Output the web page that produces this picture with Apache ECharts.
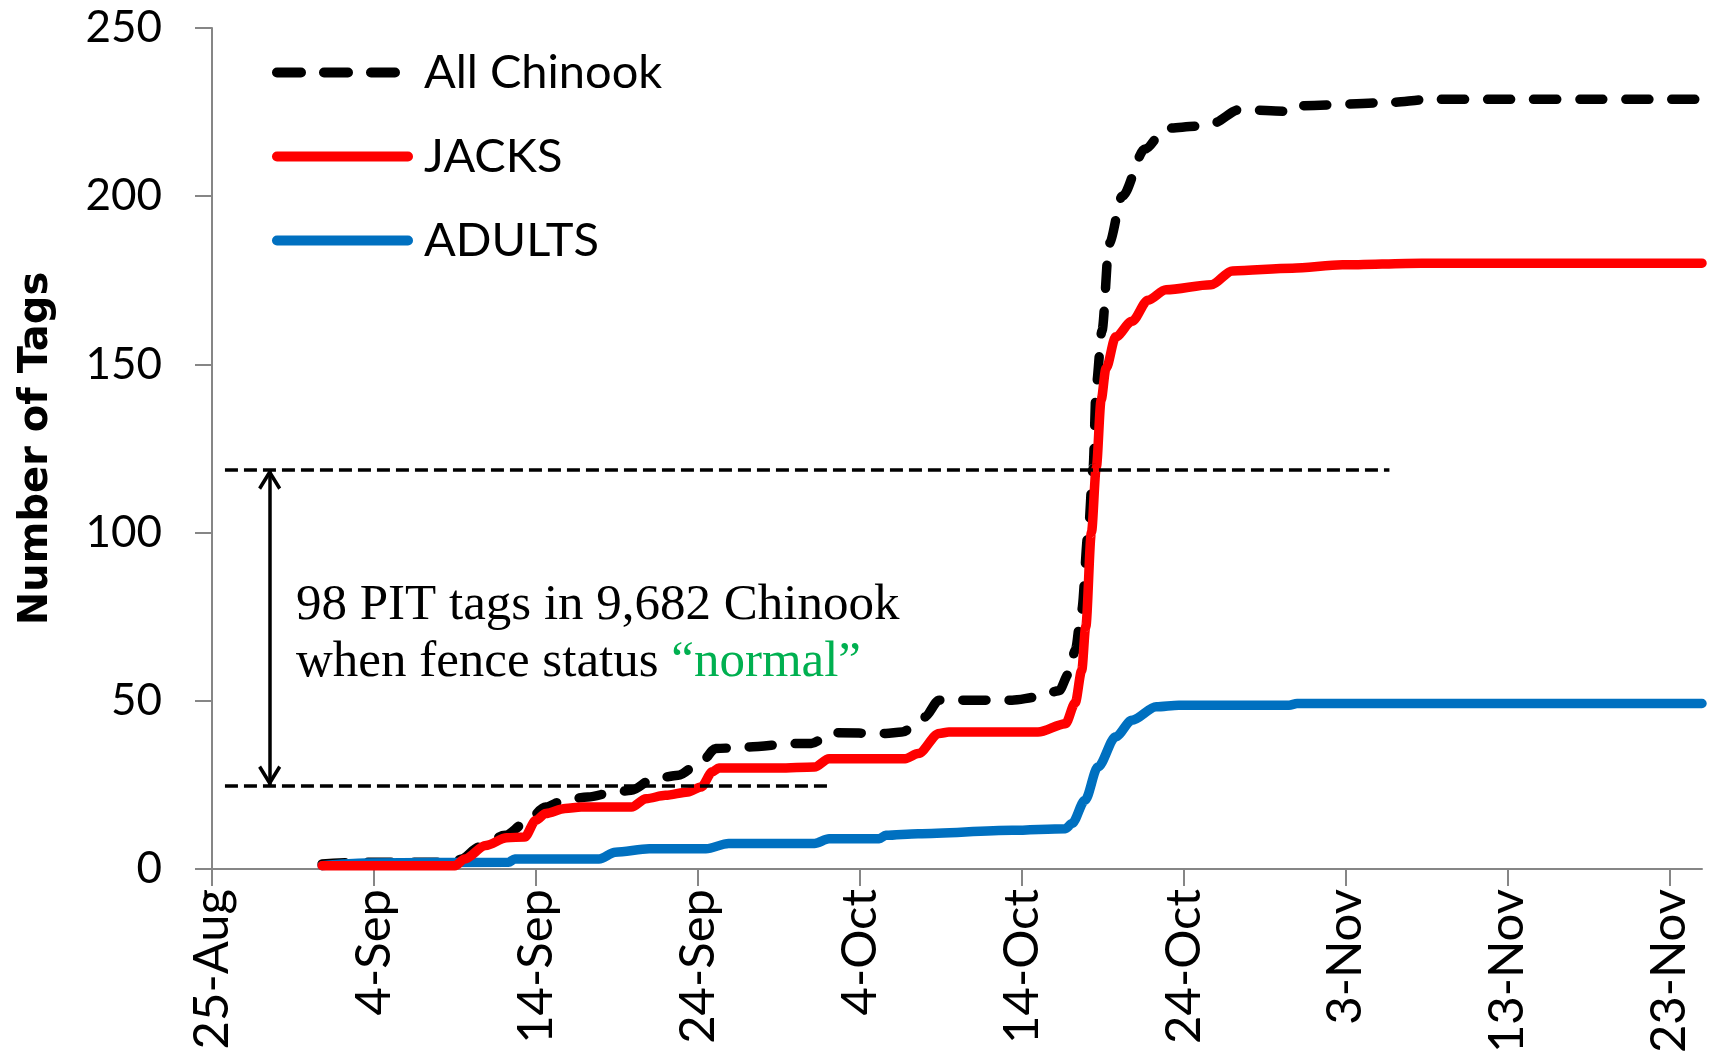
<!DOCTYPE html>
<html>
<head>
<meta charset="utf-8">
<script src="https://cdn.jsdelivr.net/npm/echarts@6/dist/echarts.min.js"></script>
<style>
  html, body { margin: 0; padding: 0; background: #fff; }
  #main { width: 1709px; height: 1061px; }
</style>
</head>
<body>
<div id="main"></div>
<script>
  // x values are days after 25-Aug
  const tickLabels = ['25-Aug', '4-Sep', '14-Sep', '24-Sep', '4-Oct', '14-Oct', '24-Oct', '3-Nov', '13-Nov', '23-Nov']

  const chinookDays = [6.8, 9.5, 15.0, 15.4, 16.5, 18.1, 19.3, 20.6, 21.8, 23.2, 24.9, 25.9, 27.2, 28.8, 30.2, 31.1, 33.1, 36.0, 37.0, 38.3, 41.6, 42.6, 44.0, 44.9, 49.4, 51.0, 52.3, 52.9, 53.3, 53.7, 54.1, 54.4, 54.6, 54.95, 55.4, 56.2, 57.6, 58.9, 60.9, 61.8, 63.4, 66.7, 67.3, 72.5, 75.3, 92]
  const chinookTags = [1.5, 2, 2, 3, 6.5, 10, 13.5, 18.4, 20.6, 21.4, 22.9, 23.4, 26.7, 27.9, 31.8, 35.8, 36.3, 37.3, 37.3, 40.5, 40.3, 40.7, 45.2, 50.2, 50.2, 51.1, 53, 58, 65, 77, 100, 119, 144, 160, 186, 200, 214, 220.2, 220.8, 221.7, 225.7, 225.2, 226.9, 227.8, 228.8, 228.8]

  const jacksDays = [6.8, 15.0, 15.6, 16.9, 18.2, 19.3, 20.0, 20.6, 21.8, 22.8, 25.9, 26.8, 28.0, 29.4, 30.2, 30.9, 31.3, 35.0, 37.2, 38.1, 42.8, 43.6, 44.9, 45.5, 51.0, 52.7, 53.3, 53.7, 53.95, 54.3, 54.6, 54.9, 55.2, 55.8, 56.8, 57.8, 58.9, 61.7, 63.0, 66.7, 69.8, 74.7, 92]
  const jacksTags = [1, 1, 3, 7, 9.3, 9.5, 14.5, 16.5, 18, 18.4, 18.4, 20.9, 21.9, 22.9, 24.4, 28.9, 30, 30, 30.3, 32.8, 32.8, 34.3, 40.3, 40.7, 40.7, 43.2, 49.4, 59, 72, 100, 119.3, 139.5, 148.8, 158.2, 162.8, 169.1, 172.2, 173.7, 177.8, 178.6, 179.6, 180.1, 180.1]

  const adultsDays = [6.8, 9.5, 18.3, 18.7, 23.9, 24.9, 27.0, 30.5, 31.9, 37.2, 38.1, 41.2, 41.6, 43.6, 49.4, 52.7, 53.1, 53.9, 54.7, 55.8, 56.8, 58.3, 59.7, 66.5, 67.0, 92]
  const adultsTags = [1, 1.8, 2, 3, 3, 5, 6, 6, 7.6, 7.6, 9, 9, 10, 10.5, 11.5, 12, 13.5, 20.4, 30.3, 39.3, 44.2, 48.2, 48.7, 48.7, 49.2, 49.2]

  // "normal" fence period bracket
  const bracketTags = [24.7, 118.8]
  const bracketStart = 0.8
  const bracketEnds = [38.2, 72.7]
  const arrowDay = 3.56

  const pairs = (xs, ys) => xs.map((x, i) => [x, ys[i]])
  const chevron = 'path://M0,16 L10,0 L20,16 L17.5,18 L10,6 L2.5,18 Z'
  // legend swatches: a thick rounded bar, and three rounded dashes
  const solidIcon = 'path://M5,0 L136,0 A5,5 0 0 1 136,10 L5,10 A5,5 0 0 1 5,0 Z'
  const dashIcon = 'path://M5,0 L29,0 A5,5 0 0 1 29,10 L5,10 A5,5 0 0 1 5,0 Z' +
    'M52,0 L76,0 A5,5 0 0 1 76,10 L52,10 A5,5 0 0 1 52,0 Z' +
    'M99,0 L123,0 A5,5 0 0 1 123,10 L99,10 A5,5 0 0 1 99,0 Z' +
    'M140.9,5 L141,5 L141,5.01 L140.9,5.01 Z'

  const chart = echarts.init(document.getElementById('main'))
  chart.setOption({
    animation: false,
    grid: { left: 212, right: 7, top: 28, bottom: 192 },
    legend: {
      data: [
        { name: 'All Chinook', icon: dashIcon },
        { name: 'JACKS', icon: solidIcon },
        { name: 'ADULTS', icon: solidIcon }
      ],
      orient: 'vertical',
      left: 267,
      top: 44,
      itemWidth: 141,
      itemHeight: 10,
      itemGap: 37,
      textStyle: { fontFamily: 'Lato', fontSize: 47, lineHeight: 44, color: '#000', padding: [0, 0, 0, 6] }
    },
    xAxis: {
      type: 'value',
      min: 0,
      max: 92,
      interval: 10,
      splitLine: { show: false },
      axisLine: { lineStyle: { color: '#868686', width: 2 } },
      axisTick: { length: 17, lineStyle: { color: '#868686', width: 2 } },
      axisLabel: {
        rotate: 90,
        margin: 20,
        fontFamily: 'Lato',
        fontSize: 49,
        color: '#000',
        showMaxLabel: false,
        formatter: v => (v % 10 === 0 ? tickLabels[v / 10] || '' : '')
      }
    },
    yAxis: {
      type: 'value',
      min: 0,
      max: 250,
      interval: 50,
      name: 'Number of Tags',
      nameLocation: 'middle',
      nameGap: 155,
      nameTextStyle: { fontFamily: 'DejaVu Sans', fontWeight: 'bold', fontSize: 40, color: '#000' },
      splitLine: { show: false },
      axisLine: { show: true, lineStyle: { color: '#868686', width: 2 } },
      axisTick: { show: true, length: 17, lineStyle: { color: '#868686', width: 2 } },
      axisLabel: { margin: 50, fontFamily: 'Lato', fontSize: 44, color: '#000' }
    },
    graphic: [{
      type: 'text',
      left: 296,
      top: 577,
      style: {
        text: '98 PIT tags in 9,682 Chinook\nwhen fence status {g|“normal”}',
        fontFamily: 'Liberation Serif',
        fontSize: 51,
        lineHeight: 57,
        fill: '#000',
        rich: { g: { fontFamily: 'Liberation Serif', fontSize: 51, lineHeight: 57, fill: '#00B050' } }
      }
    }],
    series: [
      {
        name: 'notes',
        type: 'line',
        data: [],
        silent: true,
        markLine: {
          silent: true,
          animation: false,
          label: { show: false },
          data: [
            [
              { coord: [bracketStart, bracketTags[1]], symbol: 'none', lineStyle: { color: '#000', width: 3.5, type: [13, 6] } },
              { coord: [bracketEnds[1], bracketTags[1]], symbol: 'none' }
            ],
            [
              { coord: [bracketStart, bracketTags[0]], symbol: 'none', lineStyle: { color: '#000', width: 3.5, type: [13, 6] } },
              { coord: [bracketEnds[0], bracketTags[0]], symbol: 'none' }
            ],
            [
              { coord: [arrowDay, bracketTags[1]], symbol: chevron, symbolSize: [23, 21], symbolOffset: [0, 10], lineStyle: { color: '#000', width: 3.5, type: 'solid' } },
              { coord: [arrowDay, bracketTags[0]], symbol: chevron, symbolSize: [23, 21], symbolOffset: [0, 10] }
            ]
          ],
          itemStyle: { color: '#000' }
        }
      },
      {
        name: 'ADULTS',
        type: 'line',
        data: pairs(adultsDays, adultsTags),
        symbol: 'none',
        smooth: 0.3,
        smoothMonotone: 'x',
        itemStyle: { color: '#0070C0' },
        lineStyle: { color: '#0070C0', width: 9.5, cap: 'round', join: 'round' }
      },
      {
        name: 'JACKS',
        type: 'line',
        data: pairs(jacksDays, jacksTags),
        symbol: 'none',
        smooth: 0.3,
        smoothMonotone: 'x',
        itemStyle: { color: '#FF0000' },
        lineStyle: { color: '#FF0000', width: 9.5, cap: 'round', join: 'round' }
      },
      {
        name: 'All Chinook',
        type: 'line',
        data: pairs(chinookDays, chinookTags),
        symbol: 'none',
        smooth: 0.3,
        smoothMonotone: 'x',
        z: 1,
        itemStyle: { color: '#000' },
        lineStyle: { color: '#000', width: 9.5, type: [23, 23], cap: 'round', join: 'round' }
      }
    ]
  })
</script>
</body>
</html>
